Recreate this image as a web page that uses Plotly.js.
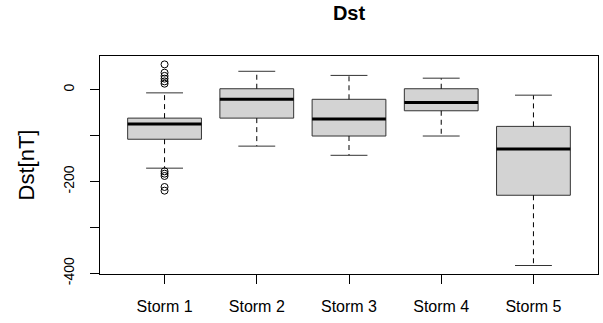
<!DOCTYPE html>
<html>
<head>
<meta charset="utf-8">
<script src="https://cdn.plot.ly/plotly-3.0.1.min.js"></script>
<style>html,body{margin:0;padding:0;background:#fff;}#chart{width:603px;height:323px;}</style>
</head>
<body>
<div id="chart"></div>
<script>
// ---- data ----
var categories = ['Storm 1', 'Storm 2', 'Storm 3', 'Storm 4', 'Storm 5'];
var upperWhisker = [-7, 40, 31, 25, -12];
var q3Values = [-62, 2, -21, 2, -80];
var medianValues = [-75, -21, -64, -28, -129];
var q1Values = [-108, -62, -101, -46, -230];
var lowerWhisker = [-171, -123, -143, -101, -383];
var outlierGroup = ['Storm 1', 'Storm 1', 'Storm 1', 'Storm 1', 'Storm 1', 'Storm 1',
                    'Storm 1', 'Storm 1', 'Storm 1', 'Storm 1', 'Storm 1'];
var outlierValues = [55, 37, 30, 24, 18, 13, -178, -183, -188, -212, -220];
var yTickValues = [0, -100, -200, -300, -400];
var yTickLabels = ['0', '', '-200', '', '-400'];

// ---- build traces ----
var FONT = 'Liberation Sans, Arial, sans-serif';
var HALF = 0.4, CAP = 0.2;
var traces = [];
categories.forEach(function (c, k) {
  var i = k + 1;
  traces.push({
    type: 'scatter', mode: 'lines', hoverinfo: 'skip', showlegend: false,
    x: [i - HALF, i + HALF, i + HALF, i - HALF, i - HALF],
    y: [q1Values[k], q1Values[k], q3Values[k], q3Values[k], q1Values[k]],
    fill: 'toself', fillcolor: '#d3d3d3',
    line: {color: '#333333', width: 1}
  });
  traces.push({
    type: 'scatter', mode: 'lines', hoverinfo: 'skip', showlegend: false,
    x: [i, i, null, i, i],
    y: [q3Values[k], upperWhisker[k], null, q1Values[k], lowerWhisker[k]],
    line: {color: '#000000', width: 1, dash: '5px,4px'}
  });
  traces.push({
    type: 'scatter', mode: 'lines', hoverinfo: 'skip', showlegend: false,
    x: [i - CAP, i + CAP, null, i - CAP, i + CAP],
    y: [upperWhisker[k], upperWhisker[k], null, lowerWhisker[k], lowerWhisker[k]],
    line: {color: '#333333', width: 1}
  });
  traces.push({
    type: 'scatter', mode: 'lines', hoverinfo: 'skip', showlegend: false,
    x: [i - HALF, i + HALF],
    y: [medianValues[k], medianValues[k]],
    line: {color: '#000000', width: 3}
  });
});
traces.push({
  type: 'scatter', mode: 'markers', showlegend: false,
  x: outlierGroup.map(function (g) { return categories.indexOf(g) + 1; }),
  y: outlierValues,
  marker: {symbol: 'circle-open', size: 7, color: '#000000', line: {width: 1, color: '#000000'}}
});

var layout = {
  width: 603, height: 323,
  margin: {l: 100, r: 5, t: 56, b: 49},
  paper_bgcolor: '#ffffff', plot_bgcolor: '#ffffff',
  font: {family: FONT, color: '#000000'},
  title: {
    text: '<b>Dst</b>', font: {family: FONT, size: 20, color: '#000000'},
    x: 0.5, xref: 'paper', xanchor: 'center',
    y: 1 - 13 / 323, yref: 'container', yanchor: 'middle'
  },
  xaxis: {
    range: [0.3, 5.7], tickvals: [1, 2, 3, 4, 5], ticktext: categories,
    showgrid: false, zeroline: false,
    showline: true, mirror: true, linecolor: '#000000', linewidth: 1,
    ticks: 'outside', ticklen: 9, tickcolor: '#000000', tickwidth: 1,
    tickfont: {family: FONT, size: 16, color: '#000000'},
    ticklabelstandoff: 9
  },
  yaxis: {
    range: [-401.5, 73.3], tickvals: yTickValues, ticktext: yTickLabels,
    tickangle: -90,
    showgrid: false, zeroline: false,
    showline: true, mirror: true, linecolor: '#000000', linewidth: 1,
    ticks: 'outside', ticklen: 9, tickcolor: '#000000', tickwidth: 1,
    tickfont: {family: FONT, size: 14, color: '#000000'},
    ticklabelstandoff: 10,
    title: {text: 'Dst[nT]', font: {family: FONT, size: 22, color: '#000000'}, standoff: 20}
  }
};

Plotly.newPlot('chart', traces, layout, {staticPlot: true, displayModeBar: false});
</script>
</body>
</html>
